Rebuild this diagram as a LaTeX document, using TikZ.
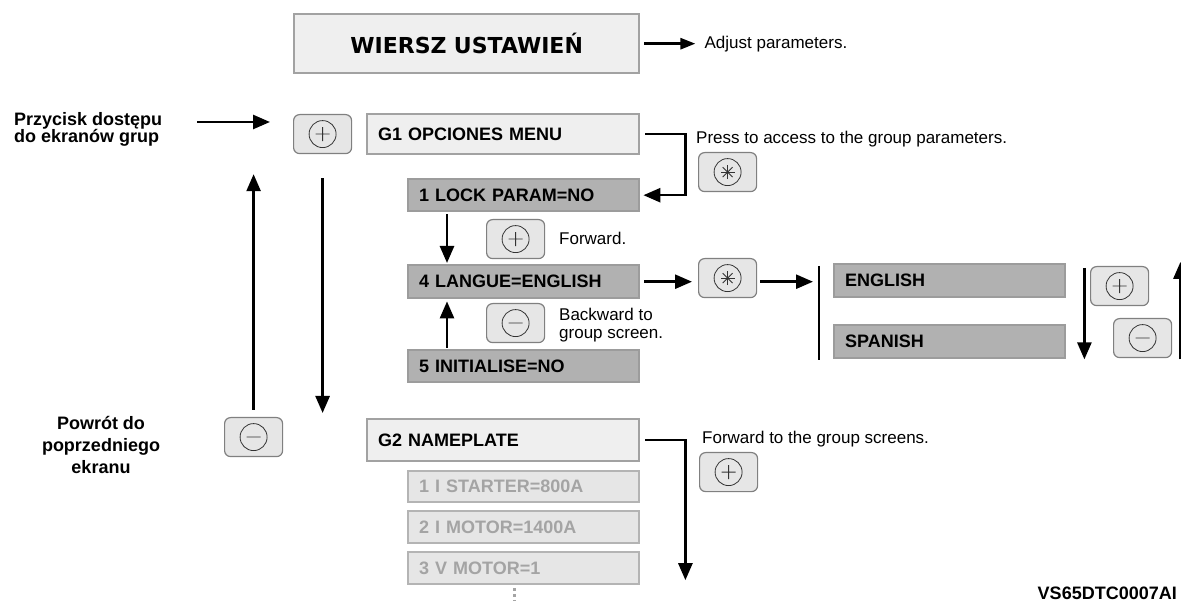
\documentclass[tikz,border=0pt]{standalone}
\usepackage{fontspec}
\setmainfont{Liberation Sans}
\newfontfamily\titlefont{DejaVu Sans}
\usepackage{tikz}
\usetikzlibrary{arrows.meta,calc,positioning}
\definecolor{grpfill}{HTML}{EFEFEF}
\definecolor{boxedge}{HTML}{A2A2A2}
\definecolor{parfill}{HTML}{B1B1B1}
\definecolor{paredge}{HTML}{9C9C9C}
\definecolor{dimfill}{HTML}{E6E6E6}
\definecolor{dimedge}{HTML}{B4B4B4}
\definecolor{dimtext}{HTML}{A4A4A4}
\definecolor{btnfill}{HTML}{E6E6E6}
\definecolor{btnedge}{HTML}{808080}
\tikzset{
    menubox/.style={draw=boxedge,line width=2.4pt,anchor=north west,inner xsep=11pt,inner ysep=0pt,
        align=left,font=\fontsize{18}{20}\selectfont\bfseries},
    groupbox/.style={menubox,fill=grpfill,text width=250pt,minimum height=40pt},
    parambox/.style={menubox,fill=parfill,draw=paredge,text width=209pt,minimum height=32pt},
    dimbox/.style={menubox,fill=dimfill,draw=dimedge,text=dimtext,text width=209pt,minimum height=31pt},
    keybtn/.style={draw=btnedge,fill=btnfill,line width=1.2pt,rounded corners=6pt,anchor=north west,
        minimum width=58pt,minimum height=39pt,inner sep=0pt},
    keyplus/.style={keybtn,path picture={
        \coordinate (kc) at (path picture bounding box.center);
        \draw[draw=black!80,line width=0.8pt] (kc) circle (13.5pt)
          (kc) +(-7,0) -- +(7,0) (kc) +(0,-7) -- +(0,7);}},
    keyminus/.style={keybtn,path picture={
        \coordinate (kc) at (path picture bounding box.center);
        \draw[draw=black!80,line width=0.8pt] (kc) circle (13.5pt)
          (kc) +(-7,0) -- +(7,0);}},
    keystar/.style={keybtn,path picture={
        \coordinate (kc) at (path picture bounding box.center);
        \draw[draw=black!80,line width=0.8pt] (kc) circle (13.5pt);
        \foreach \a in {0,45,90,135}
          \draw[draw=black!80,line width=0.8pt] (kc) +(\a:7) -- +(\a+180:7);}},
    note/.style={anchor=west,inner sep=0pt,align=left,font=\fontsize{17}{18}\selectfont},
    sidenote/.style={inner sep=0pt,font=\fontsize{18}{17}\selectfont\bfseries},
    flow/.style={line width=2.6pt,-{Triangle[length=17pt,width=14pt]}},
    wire/.style={line width=2.6pt}
}
\begin{document}
\begin{tikzpicture}[x=1pt,y=-1pt]
  \useasboundingbox (0,0) rectangle (1181,601);

  % 标题
  \node[groupbox,text width=323pt,minimum height=59pt,align=center,
    font=\titlefont\fontsize{22}{24}\selectfont\bfseries] (wiersz) at (293,13) {WIERSZ USTAWIEŃ};
  \node[note,right=64pt of wiersz.east] (adjust) {Adjust parameters.};
  \draw[line width=2.6pt,-{Triangle[length=15pt,width=11pt]},shorten <=4pt,shorten >=9pt]
    (wiersz.east) -- (adjust.west);

  % 组菜单
  \node[groupbox] (g1) at (366,113) {G1 OPCIONES MENU};
  \node[parambox] (lock) at (407,178) {1 LOCK PARAM=NO};
  \node[parambox,minimum height=33pt] (langue) at (407,264) {4 LANGUE=ENGLISH};
  \node[parambox] (init) at (407,349) {5 INITIALISE=NO};

  \node[groupbox,minimum height=42pt] (g2) at (366,418) {G2 NAMEPLATE};
  \node[dimbox] (starter) at (407,470) {1 I STARTER=800A};
  \node[dimbox,minimum height=32pt] (imotor) at (407,510) {2 I MOTOR=1400A};
  \node[dimbox,minimum height=32pt] (vmotor) at (407,551) {3 V MOTOR=1};
  \foreach \y in {589,595,601}{
    \fill[dimtext] (512.5,\y-1.5) rectangle ++(3,3);
  }

  % 语言选项
  \node[parambox,minimum height=33pt] (english) at (833,263) {ENGLISH};
  \node[parambox,minimum height=33pt] (spanish) at (833,324) {SPANISH};

  % 按键
  \node[keyplus] (plusA) at (293,114) {};
  \node[keyminus] (minusA) at (224,417) {};
  \node[keystar] (starA) at (698,152) {};
  \node[keyplus] (plusB) at (486,219) {};
  \node[keyminus] (minusB) at (486,303) {};
  \node[keystar] (starB) at (698,258) {};
  \node[keyplus] (plusC) at (1090,266) {};
  \node[keyminus] (minusC) at (1113,318) {};
  \node[keyplus] (plusD) at (699,452) {};

  % 说明文字
  \node[sidenote,anchor=west,align=left] (przycisk) at (14,129) {Przycisk dostępu\\do ekranów grup};
  \node[sidenote,align=center,font=\fontsize{18}{21.7}\selectfont\bfseries] (powrot) at (101,445)
    {Powrót do\\poprzedniego\\ekranu};
  \node[note] (press) at (696,139) {Press to access to the group parameters.};
  \node[note] (forward) at (559,238) {Forward.};
  \node[note] (backward) at (559,325) {Backward to\\group screen.};
  \node[note] (fwdgrp) at (702,439) {Forward to the group screens.};
  \node[sidenote,anchor=east] (code) at (1177,593) {VS65DTC0007AI};

  % 箭头
  \coordinate (pzstart) at ([xshift=35pt,yshift=7pt]przycisk.east);
  \draw[flow] (pzstart) -- ([xshift=-23pt]plusA.west |- pzstart);
  \draw[flow,shorten <=24pt,shorten >=5pt] (plusA.south) -- (plusA.south |- g2.north);
  \draw[flow,shorten <=7pt,shorten >=20pt] (minusA.north) -- (minusA.north |- plusA.south);

  \draw[flow] ([xshift=5pt]g1.east) -- ++(40,0) |- ([xshift=3pt]lock.east);
  \draw[flow,shorten <=2pt,shorten >=1pt]
    ([xshift=40pt]lock.south west) -- ([xshift=40pt]langue.north west);
  \draw[flow,shorten <=1pt,shorten >=2pt]
    ([xshift=40pt]init.north west) -- ([xshift=40pt]langue.south west);

  \draw[flow] ([xshift=4pt]langue.east) -- ([xshift=-6pt]starB.west |- langue.east);
  \draw[flow] ([xshift=3pt]starB.east |- langue.east) -- ([xshift=-20pt]english.west |- langue.east);
  \draw[wire] ([xshift=-14pt,yshift=-3pt]english.north west) -- ([xshift=-14pt,yshift=-1pt]spanish.south west);
  \draw[flow] ([xshift=18pt,yshift=-5pt]english.north east) -- ([xshift=18pt]spanish.south east);
  \draw[flow] ([xshift=114pt]spanish.south east) -- ([xshift=114pt,yshift=1pt]english.north east);

  \draw[flow] ([xshift=5pt]g2.east) -- ++(40,0) -- ++(0,140);
\end{tikzpicture}
\end{document}
